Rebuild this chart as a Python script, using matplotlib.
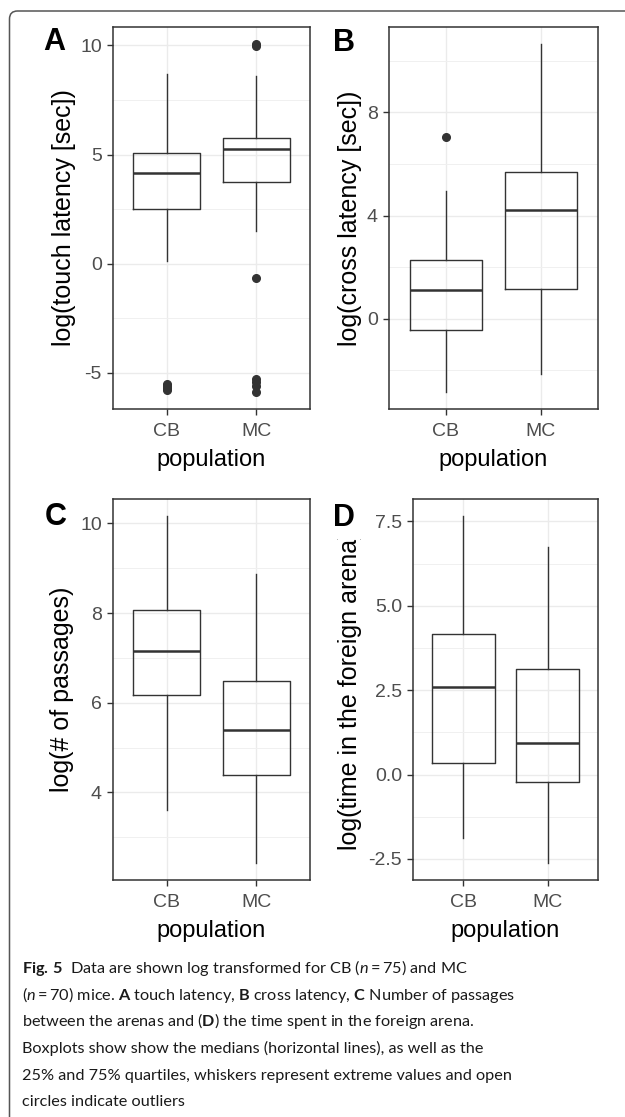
import matplotlib
matplotlib.use('Agg')
import matplotlib.pyplot as plt
from matplotlib.patches import FancyBboxPatch
from matplotlib.ticker import MultipleLocator, FormatStrFormatter
from matplotlib.transforms import Bbox, TransformedBbox

plt.rcParams['font.family'] = ['Liberation Sans', 'DejaVu Sans']
plt.rcParams['axes.unicode_minus'] = False
plt.rcParams['mathtext.fontset'] = 'custom'
plt.rcParams['mathtext.rm'] = 'Lato'
plt.rcParams['mathtext.it'] = 'Lato:italic'
plt.rcParams['mathtext.bf'] = 'Lato:bold'

groups = ['CB', 'MC']

# A: touch latency
touch_whislo = [0.14, 1.51]
touch_q1 = [2.50, 3.76]
touch_med = [4.17, 5.25]
touch_q3 = [5.05, 5.78]
touch_whishi = [8.67, 8.58]
touch_fliers = [[-5.5, -5.6, -5.7, -5.8],
                [10.05, 9.98, -0.64, -5.3, -5.45, -5.6, -5.87]]

# B: cross latency
cross_whislo = [-2.83, -2.14]
cross_q1 = [-0.43, 1.17]
cross_med = [1.13, 4.23]
cross_q3 = [2.29, 5.67]
cross_whishi = [4.97, 10.64]
cross_fliers = [[7.05], []]

# C: number of passages
pass_whislo = [3.60, 2.43]
pass_q1 = [6.17, 4.38]
pass_med = [7.16, 5.38]
pass_q3 = [8.08, 6.49]
pass_whishi = [10.16, 8.88]
pass_fliers = [[], []]

# D: time in foreign arena
arena_whislo = [-1.87, -2.61]
arena_q1 = [0.34, -0.23]
arena_med = [2.60, 0.95]
arena_q3 = [4.17, 3.12]
arena_whishi = [7.65, 6.75]
arena_fliers = [[], []]

W, H = 625, 1117
fig = plt.figure(figsize=(W / 100, H / 100), dpi=100)
fig.patch.set_facecolor('white')

# outer frame (top + left edge with rounded corner)
frame = FancyBboxPatch((0.095, -1.0), 7.0, 11.06 + 1.0,
                       boxstyle='round,pad=0,rounding_size=0.08',
                       transform=fig.dpi_scale_trans, fill=False,
                       edgecolor='#555555', lw=1.1)
fig.add_artist(frame)

dark = '#333333'


def make_stats(whislo, q1, med, q3, whishi, fliers):
    return [dict(whislo=whislo[i], q1=q1[i], med=med[i], q3=q3[i],
                 whishi=whishi[i], fliers=fliers[i], label=groups[i])
            for i in range(len(groups))]


def box_panel(rect, stats, major, fmt, ylabel, ylabel_x, letter, letter_xy, ylabel_y=0.5):
    ax = fig.add_axes([rect[0] / W, 1 - rect[3] / H,
                       (rect[2] - rect[0]) / W, (rect[3] - rect[1]) / H])
    ax.bxp(stats, positions=[1, 2], widths=0.75, showcaps=False,
           patch_artist=False,
           boxprops=dict(color=dark, lw=1.0),
           medianprops=dict(color=dark, lw=1.8),
           whiskerprops=dict(color=dark, lw=1.0),
           flierprops=dict(marker='o', markerfacecolor=dark,
                           markeredgecolor=dark, markersize=5.5))
    # ggplot-style 5% expansion of the data range
    vals = []
    for s in stats:
        vals += [s['whislo'], s['whishi']] + list(s['fliers'])
    lo, hi = min(vals), max(vals)
    pad = 0.05 * (hi - lo)
    ax.set_ylim(lo - pad, hi + pad)
    ax.set_xlim(0.4, 2.6)
    ax.set_xticks([1, 2])
    ax.set_xticklabels(groups)
    ax.yaxis.set_major_locator(MultipleLocator(major))
    ax.yaxis.set_minor_locator(MultipleLocator(major / 2))
    ax.yaxis.set_major_formatter(FormatStrFormatter(fmt))
    ax.set_axisbelow(True)
    ax.grid(True, which='major', color='#EBEBEB', lw=1.0)
    ax.grid(True, which='minor', axis='y', color='#F0F0F0', lw=0.7)
    ax.tick_params(which='major', length=4, width=1.0, color=dark,
                   labelsize=14, labelcolor='#4D4D4D')
    ax.tick_params(axis='x', pad=6)
    ax.tick_params(axis='y', pad=4)
    ax.tick_params(which='minor', length=0)
    for sp in ax.spines.values():
        sp.set_color(dark)
        sp.set_linewidth(1.1)
    ax.set_ylabel(ylabel, fontsize=18, color='black')
    ax.yaxis.set_label_coords((ylabel_x - rect[0]) / (rect[2] - rect[0]), ylabel_y)
    ax.set_xlabel('population', fontsize=17, color='black')
    ax.xaxis.set_label_coords(0.5, -0.105)
    fig.text(letter_xy[0] / W, 1 - letter_xy[1] / H, letter, fontsize=22,
             fontweight='bold', ha='left', va='top')
    return ax


box_panel((113, 27, 310, 409),
          make_stats(touch_whislo, touch_q1, touch_med, touch_q3, touch_whishi, touch_fliers),
          5, '%g', 'log(touch latency [sec])', 76, 'A', (43, 27))
box_panel((389, 27, 598, 409),
          make_stats(cross_whislo, cross_q1, cross_med, cross_q3, cross_whishi, cross_fliers),
          4, '%g', 'log(cross latency [sec])', 362, 'B', (333, 28))
box_panel((113, 499, 310, 880),
          make_stats(pass_whislo, pass_q1, pass_med, pass_q3, pass_whishi, pass_fliers),
          2, '%g', 'log(# of passages)', 74, 'C', (45, 502))
axD = box_panel((413, 499, 598, 880),
                make_stats(arena_whislo, arena_q1, arena_med, arena_q3, arena_whishi, arena_fliers),
                2.5, '%.1f', 'log(time in the foreign arena)', 362, 'D', (333, 503),
                ylabel_y=0.497)
# the long label is cut off at the top in the original figure
clip = TransformedBbox(Bbox([[0, 0], [1, 1 - 539 / H]]), fig.transFigure)
axD.yaxis.label.set_clip_box(clip)
axD.yaxis.label.set_clip_on(True)

caption = [
    r'$\mathbf{Fig.\,5}$  Data are shown log transformed for CB ($n=75$) and MC',
    r'($n=70$) mice. $\mathbf{A}$ touch latency, $\mathbf{B}$ cross latency, $\mathbf{C}$ Number of passages',
    r'between the arenas and ($\mathbf{D}$) the time spent in the foreign arena.',
    'Boxplots show show the medians (horizontal lines), as well as the',
    '25% and 75% quartiles, whiskers represent extreme values and open',
    'circles indicate outliers',
]
for i, line in enumerate(caption):
    fig.text(22 / W, 1 - (973 + 26.7 * i) / H, line, family='Lato',
             fontsize=11.7, color='#1A1A1A', ha='left', va='baseline')

fig.savefig('out.png', dpi=100, facecolor='white')
